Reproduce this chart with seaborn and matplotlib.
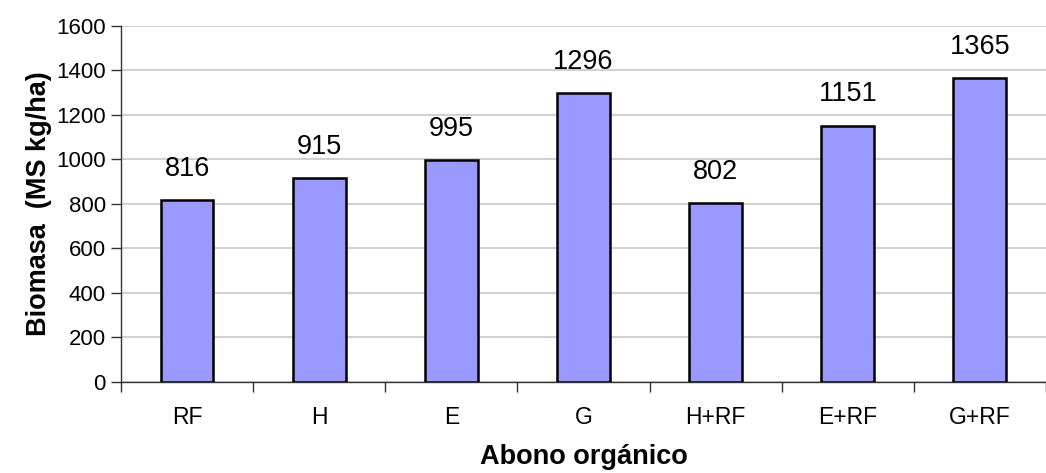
import matplotlib
matplotlib.use("Agg")
import matplotlib.pyplot as plt
import seaborn as sns
import pandas as pd
import numpy as np

categorias = ["RF", "H", "E", "G", "H+RF", "E+RF", "G+RF"]
biomasa = [816, 915, 995, 1296, 802, 1151, 1365]

sns.set_style("white")
plt.rcParams["font.family"] = ["Liberation Sans", "DejaVu Sans"]
plt.rcParams["text.color"] = "black"
plt.rcParams["axes.labelcolor"] = "black"
plt.rcParams["xtick.color"] = "black"
plt.rcParams["ytick.color"] = "black"

df = pd.DataFrame({"abono": categorias, "biomasa": biomasa})

fig = plt.figure(figsize=(10.46, 4.73), dpi=100)
ax = fig.add_axes([121 / 1046, 1 - 382 / 473, 1 - 121 / 1046, (382 - 25.5) / 473])

sns.barplot(data=df, x="abono", y="biomasa", color="#9999FF", width=0.40,
            edgecolor="black", linewidth=1.8, saturation=1, ax=ax, zorder=3)

for c in ax.containers:
    ax.bar_label(c, labels=[str(v) for v in biomasa], padding=13, fontsize=19.5)

ax.set_ylim(0, 1600)
ax.set_yticks(np.arange(0, 1601, 200))
ax.set_xlim(-0.5, (1046 - 121) / 134 - 0.5)
ax.yaxis.grid(True, color="#C8C8C8", linewidth=1.2, zorder=0)
ax.set_axisbelow(True)

ax.set_xticks(np.arange(-0.5, 7, 1), minor=True)
ax.tick_params(axis="x", which="major", bottom=False, length=0, labelsize=16.5, pad=17)
ax.tick_params(axis="x", which="minor", bottom=True, length=7, width=1, color="#333333", direction="out")
ax.tick_params(axis="y", left=True, length=7, width=1, color="#333333", direction="out", labelsize=16, pad=4)

for s in ["top", "right"]:
    ax.spines[s].set_visible(False)
for s in ["left", "bottom"]:
    ax.spines[s].set_color("#333333")
    ax.spines[s].set_linewidth(1)

ax.set_xlabel("Abono orgánico", fontsize=19.5, fontweight="bold", labelpad=11)
ax.set_ylabel("Biomasa  (MS kg/ha)", fontsize=19.5, fontweight="bold", labelpad=3)

fig.savefig("out.png", dpi=100)
